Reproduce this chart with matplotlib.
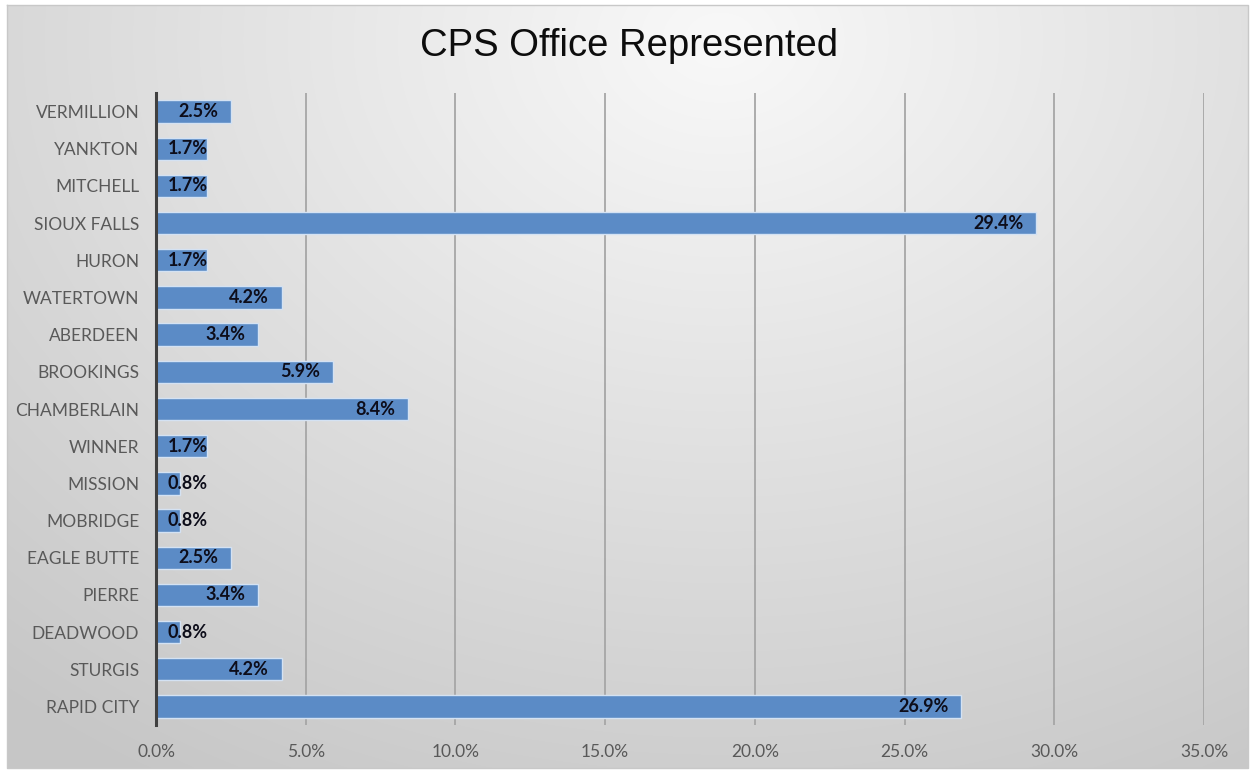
import numpy as np
import matplotlib
matplotlib.use('Agg')
from matplotlib import pyplot as plt
from matplotlib.ticker import FuncFormatter

offices = ['VERMILLION', 'YANKTON', 'MITCHELL', 'SIOUX FALLS', 'HURON',
           'WATERTOWN', 'ABERDEEN', 'BROOKINGS', 'CHAMBERLAIN', 'WINNER',
           'MISSION', 'MOBRIDGE', 'EAGLE BUTTE', 'PIERRE', 'DEADWOOD',
           'STURGIS', 'RAPID CITY']
shares = [2.5, 1.7, 1.7, 29.4, 1.7, 4.2, 3.4, 5.9, 8.4, 1.7, 0.8, 0.8,
          2.5, 3.4, 0.8, 4.2, 26.9]
x_ticks = [0, 5, 10, 15, 20, 25, 30, 35]

W, H = 1250, 773
fig = plt.figure(figsize=(W / 100, H / 100), dpi=100)

# radial grey background behind the chart
bg = fig.add_axes([0, 0, 1, 1])
yy, xx = np.mgrid[0:H, 0:W]
r = np.hypot((xx - 720) / 900.0, (yy - 40) / 700.0)
shade = np.clip(0.975 - 0.16 * r, 0.78, 0.98)
img = np.dstack([shade, shade, shade])
img[:5, :] = 1.0
img[768:, :] = 1.0
img[:, :7] = 1.0
img[:, 1249:] = 1.0
bg.imshow(img, aspect='auto', extent=(0, W, H, 0), interpolation='bilinear')
bg.plot([7, 1248, 1248, 7, 7], [5, 5, 768, 768, 5], color='#c8c8c8', lw=1)
bg.set_xlim(0, W)
bg.set_ylim(H, 0)
bg.axis('off')

ax = fig.add_axes([156 / W, 1 - 725 / H, (1204 - 156) / W, (725 - 93) / H])
ax.patch.set_alpha(0)

ypos = np.arange(len(offices))
ax.barh(ypos, shares, height=0.6, color='#5b8bc6', edgecolor='#d4e2f3',
        linewidth=1.0, zorder=3)

# values inside the bar end, short bars get the label from the base
for y, v in zip(ypos, shares):
    label = f'{v:.1f}%'
    if v >= 2.5:
        ax.annotate(label, (v, y), xytext=(-9, 0), textcoords='offset points',
                    ha='right', va='center', fontsize=13, fontweight='bold',
                    family='Lato', color='#0d0d1a', zorder=4)
    else:
        ax.annotate(label, (0, y), xytext=(8.5, 0), textcoords='offset points',
                    ha='left', va='center', fontsize=13, fontweight='bold',
                    family='Lato', color='#0d0d1a', zorder=4)

ax.set_xlim(0, 35)
ax.set_ylim(len(offices) - 0.5, -0.5)
ax.set_xticks(x_ticks)
ax.xaxis.set_major_formatter(FuncFormatter(lambda v, p: f'{v:.1f}%'))
ax.set_yticks(ypos)
ax.set_yticklabels(offices)
ax.tick_params(axis='both', length=0, colors='#595959', labelsize=12.5)
ax.tick_params(axis='x', pad=14, labelsize=12.5)
ax.tick_params(axis='y', pad=12)
for t in ax.get_xticklabels() + ax.get_yticklabels():
    t.set_family('Lato')

ax.grid(axis='x', color='#a6a6a6', lw=1.3, zorder=1)
for s in ['top', 'right', 'bottom']:
    ax.spines[s].set_visible(False)
ax.spines['left'].set_color('#404040')
ax.spines['left'].set_linewidth(2.2)
ax.spines['left'].set_zorder(5)

fig.text(629 / W, 1 - 46 / H, 'CPS Office Represented', ha='center',
         va='center', fontsize=27.5, family='Liberation Sans', color='#0d0d0d')

fig.savefig('out.png', dpi=100)
